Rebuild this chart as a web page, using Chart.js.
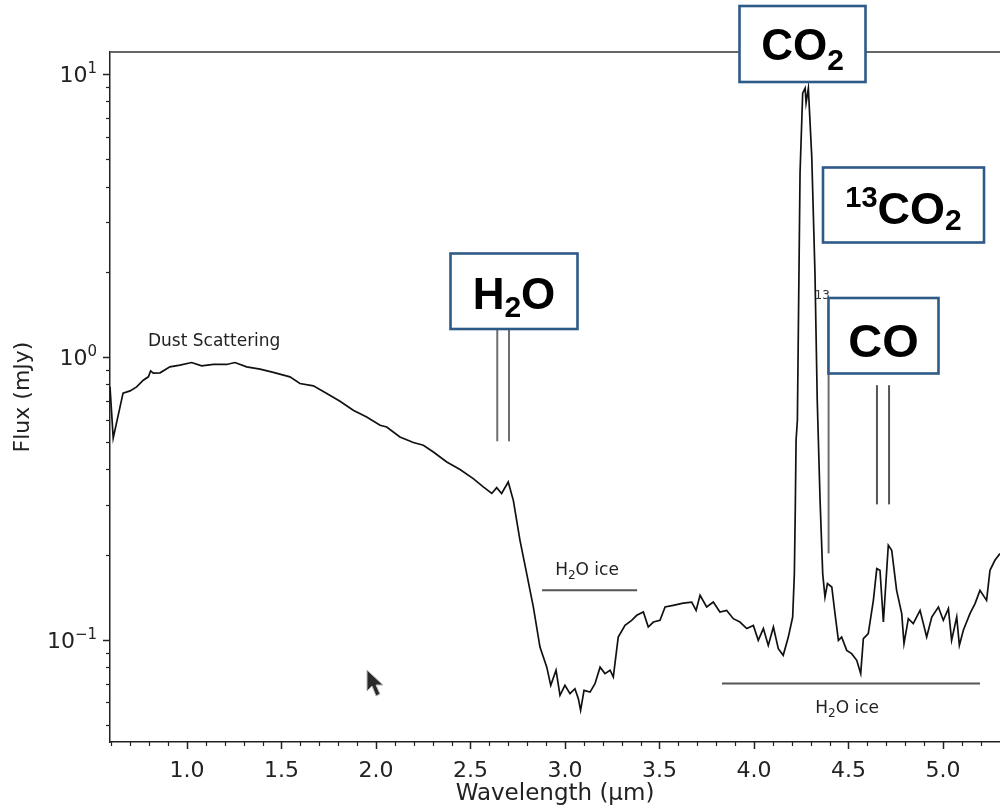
<!DOCTYPE html>
<html><head><meta charset="utf-8">
<script src="https://cdn.jsdelivr.net/npm/chart.js@4.4.0/dist/chart.umd.min.js"></script>
<style>html,body{margin:0;padding:0;background:#fff;}#wrap{width:1000px;height:808px;overflow:hidden;}</style>
</head><body><div id="wrap"><canvas id="c" width="1000" height="808"></canvas></div>
<script>
// ---- data (wavelength in micron, flux in mJy) ----
const wavelength = [0.593,0.610,0.662,0.699,0.734,0.769,0.796,0.808,0.822,0.858,
0.910,0.963,1.025,1.078,1.140,1.210,1.254,1.316,1.387,1.457,
1.545,1.598,1.669,1.740,1.810,1.880,1.951,2.022,2.057,2.127,
2.198,2.251,2.304,2.375,2.445,2.515,2.568,2.613,2.639,2.665,
2.700,2.727,2.762,2.798,2.833,2.868,2.904,2.925,2.953,2.974,
3.000,3.027,3.053,3.071,3.083,3.101,3.133,3.159,3.186,3.212,
3.239,3.256,3.282,3.318,3.353,3.380,3.415,3.441,3.468,3.503,
3.530,3.573,3.626,3.671,3.694,3.715,3.750,3.785,3.820,3.856,
3.891,3.926,3.962,3.997,4.023,4.050,4.076,4.103,4.129,4.155,
4.182,4.205,4.214,4.219,4.223,4.230,4.244,4.258,4.271,4.276,
4.288,4.306,4.323,4.335,4.350,4.364,4.376,4.389,4.412,4.429,
4.447,4.464,4.491,4.517,4.544,4.565,4.579,4.605,4.632,4.650,
4.667,4.685,4.711,4.729,4.755,4.782,4.794,4.817,4.843,4.879,
4.914,4.941,4.976,5.002,5.029,5.046,5.073,5.087,5.108,5.143,
5.170,5.196,5.231,5.249,5.275,5.302];
const flux = [0.783,0.516,0.744,0.758,0.783,0.827,0.850,0.892,0.876,0.878,
0.922,0.935,0.955,0.929,0.940,0.940,0.955,0.922,0.905,0.881,
0.850,0.805,0.790,0.742,0.697,0.648,0.613,0.573,0.565,0.521,
0.498,0.487,0.461,0.425,0.400,0.371,0.347,0.329,0.345,0.329,
0.361,0.311,0.225,0.171,0.1305,0.0942,0.0800,0.0690,0.0780,0.0636,
0.0690,0.0645,0.0671,0.0619,0.0563,0.0662,0.0653,0.0699,0.0800,0.0759,
0.0780,0.0738,0.1022,0.1124,0.1171,0.1220,0.1253,0.1109,0.1155,0.1171,
0.1305,0.1323,0.1348,0.1359,0.1270,0.1436,0.1305,0.1359,0.1253,0.1270,
0.1187,0.1155,0.1095,0.1124,0.0995,0.1095,0.0955,0.1109,0.0930,0.0881,
0.1022,0.1203,0.1713,0.2947,0.5076,0.597,4.465,8.55,8.90,7.90,
8.90,5.10,1.977,0.703,0.311,0.171,0.1416,0.158,0.1536,0.1237,
0.0995,0.1022,0.0917,0.0893,0.0846,0.0759,0.1009,0.1051,0.1378,0.1784,
0.176,0.1155,0.2158,0.2072,0.1495,0.1237,0.0969,0.1187,0.1140,0.1270,
0.1022,0.1203,0.1305,0.1171,0.1288,0.0995,0.1203,0.0955,0.1080,0.1237,
0.1342,0.1495,0.1378,0.176,0.1909,0.2016];

// feature marker lines
const h2oGasLines = [2.642, 2.704];      const h2oGasRange = [0.503, 1.30];
const co13Lines = [4.395];               const co13Range = [0.202, 1.52];
const coGasLines = [4.651, 4.715];       const coGasRange = [0.301, 0.794];
const iceBandStart = [2.879, 3.831];
const iceBandEnd   = [3.382, 5.196];
const iceBandFlux  = [0.1495, 0.0701];

// axes
const xMin = 0.593, xMax = 5.302, yMin = 0.0435, yMax = 11.96;
const xMajorTicks = [1.0,1.5,2.0,2.5,3.0,3.5,4.0,4.5,5.0];
const xMinorTicks = [0.6,0.7,0.8,0.9,1.1,1.2,1.3,1.4,1.6,1.7,1.8,1.9,2.1,2.2,2.3,2.4,2.6,2.7,2.8,2.9,3.1,3.2,3.3,3.4,3.6,3.7,3.8,3.9,4.1,4.2,4.3,4.4,4.6,4.7,4.8,4.9,5.1,5.2,5.3];
const xTickLabels = ['1.0','1.5','2.0','2.5','3.0','3.5','4.0','4.5','5.0'];
const yMajorTicks = [0.1, 1, 10];
const yTickBase = ['10', '10', '10'];
const yTickExp  = ['\u22121', '0', '1'];
const yMinorTicks = [0.05,0.06,0.07,0.08,0.09,0.2,0.3,0.4,0.5,0.6,0.7,0.8,0.9,2,3,4,5,6,7,8,9];

const lineSet = (xs, range, color, w) => xs.map(v => ({
  data: [{x: v, y: range[0]}, {x: v, y: range[1]}],
  borderColor: color, borderWidth: w, pointRadius: 0, fill: false
}));
const iceSets = iceBandStart.map((s, i) => ({
  data: [{x: s, y: iceBandFlux[i]}, {x: iceBandEnd[i], y: iceBandFlux[i]}],
  borderColor: '#555', borderWidth: 2, pointRadius: 0, fill: false
}));

function measureParts(ctx, parts, family) {
  let total = 0;
  parts.forEach(p => { ctx.font = `${p[3]||''} ${p[1]}px ${family}`; p.w = ctx.measureText(p[0]).width; total += p.w; });
  return total;
}
function drawRichAt(ctx, parts, left, baseline, family, color) {
  ctx.fillStyle = color; ctx.textBaseline = 'alphabetic'; ctx.textAlign = 'left';
  let xx = left;
  parts.forEach(p => { ctx.font = `${p[3]||''} ${p[1]}px ${family}`; ctx.fillText(p[0], xx, baseline + p[2]); xx += p.w; });
}
function drawRich(ctx, parts, cx, baseline, family, color) {
  const total = measureParts(ctx, parts, family);
  drawRichAt(ctx, parts, cx - total / 2, baseline, family, color);
}

const decor = {
  id: 'decor',
  afterDraw(chart) {
    const {ctx, chartArea: a, scales: {x, y}} = chart;
    const dv = '"DejaVu Sans"';
    ctx.save();
    // top spine
    ctx.strokeStyle = '#666'; ctx.lineWidth = 2;
    ctx.beginPath(); ctx.moveTo(a.left, a.top); ctx.lineTo(a.right, a.top); ctx.stroke();
    // tick marks
    ctx.strokeStyle = '#222';
    const tick = (x1, y1, x2, y2, w) => { ctx.lineWidth = w; ctx.beginPath(); ctx.moveTo(x1, y1); ctx.lineTo(x2, y2); ctx.stroke(); };
    xMajorTicks.forEach(v => { const p = Math.round(x.getPixelForValue(v)) + 0.5; tick(p, a.bottom, p, a.bottom + 7, 1.5); });
    xMinorTicks.forEach(v => { const p = Math.round(x.getPixelForValue(v)) + 0.5; if (p > a.left + 1 && p < a.right) tick(p, a.bottom, p, a.bottom + 4, 1.2); });
    yMajorTicks.forEach(v => { const p = Math.round(y.getPixelForValue(v)) + 0.5; tick(a.left - 7, p, a.left, p, 1.5); });
    yMinorTicks.forEach(v => { const p = Math.round(y.getPixelForValue(v)) + 0.5; tick(a.left - 4, p, a.left, p, 1.2); });

    // y tick labels with mathtext-like superscripts
    yMajorTicks.forEach((v, i) => {
      const p = y.getPixelForValue(v);
      const parts = [[yTickBase[i], 22, 0], [yTickExp[i], 15, -9]];
      const total = measureParts(ctx, parts, dv);
      drawRichAt(ctx, parts, a.left - 13 - total, p + 8, dv, '#222');
    });

    // small text annotations
    ctx.fillStyle = '#222'; ctx.font = `17px ${dv}`; ctx.textAlign = 'left'; ctx.textBaseline = 'alphabetic';
    ctx.fillText('Dust Scattering', x.getPixelForValue(0.794), y.getPixelForValue(1.091));
    drawRich(ctx, [['H',17,0],['2',12,4],['O ice',17,0]], x.getPixelForValue(3.117), y.getPixelForValue(0.169), dv, '#222');
    drawRich(ctx, [['H',17,0],['2',12,4],['O ice',17,0]], x.getPixelForValue(4.493), y.getPixelForValue(0.0549), dv, '#222');
    ctx.fillStyle = '#333'; ctx.font = `12px ${dv}`; ctx.textAlign = 'left';
    ctx.fillText('13', x.getPixelForValue(co13Lines[0]) - 14, y.getPixelForValue(1.6));

    // molecule boxes
    const lib = '"Liberation Sans", Arial, sans-serif';
    const boxes = [
      {r: [739.5, 6, 126, 76], cx: 802.5, base: 60, parts: [['CO',44,0,'bold'],['2',30,10,'bold']]},
      {r: [450.5, 253.5, 127, 75.5], cx: 514, base: 309, parts: [['H',44,0,'bold'],['2',30,8,'bold'],['O',44,0,'bold']]},
      {r: [823, 167.5, 161, 75], cx: 903.5, base: 224, parts: [['13',29,-17,'bold'],['CO',45,0,'bold'],['2',30,6,'bold']]},
      {r: [828.5, 298, 110, 75.5], cx: 883.5, base: 357, parts: [['CO',47,0,'bold']]}
    ];
    boxes.forEach(b => {
      ctx.fillStyle = '#fff'; ctx.fillRect(...b.r);
      ctx.strokeStyle = '#2e5a87'; ctx.lineWidth = 2.6; ctx.strokeRect(...b.r);
      drawRich(ctx, b.parts, b.cx, b.base, lib, '#000');
    });

    // mouse pointer
    ctx.beginPath();
    ctx.moveTo(367, 670); ctx.lineTo(367, 691); ctx.lineTo(372, 686); ctx.lineTo(376, 696);
    ctx.lineTo(380, 694); ctx.lineTo(376, 685); ctx.lineTo(383, 685); ctx.closePath();
    ctx.fillStyle = '#2a2a2a'; ctx.fill(); ctx.strokeStyle = '#bbb'; ctx.lineWidth = 1; ctx.stroke();
    ctx.restore();
  }
};

new Chart(document.getElementById('c'), {
  type: 'line',
  data: {
    datasets: [
      {data: wavelength.map((w, i) => ({x: w, y: flux[i]})), borderColor: '#111', borderWidth: 1.7,
       pointRadius: 0, tension: 0, fill: false},
      ...lineSet(h2oGasLines, h2oGasRange, '#6e6e6e', 2),
      ...lineSet(co13Lines, co13Range, '#6e6e6e', 2),
      ...lineSet(coGasLines, coGasRange, '#555', 2),
      ...iceSets
    ]
  },
  options: {
    responsive: false, animation: false, devicePixelRatio: 1,
    layout: {padding: {top: 52, left: 0, right: 0, bottom: 0}},
    plugins: {legend: {display: false}, tooltip: {enabled: false}},
    scales: {
      x: {
        type: 'linear', min: xMin, max: xMax,
        afterFit: s => { s.height = 66; },
        afterBuildTicks: s => { s.ticks = xMajorTicks.map(v => ({value: v})); },
        ticks: {autoSkip: false, maxRotation: 0, padding: 9, color: '#222',
          font: {family: 'DejaVu Sans', size: 22},
          callback: (v) => { const i = xMajorTicks.findIndex(t => Math.abs(t - v) < 1e-6); return i >= 0 ? xTickLabels[i] : ''; }},
        grid: {display: true, drawOnChartArea: false, drawTicks: true, tickLength: 7, tickColor: 'rgba(0,0,0,0)'},
        border: {display: true, color: '#222', width: 1.5},
        title: {display: true, text: 'Wavelength (\u03BCm)', color: '#222', font: {family: 'DejaVu Sans', size: 23}, padding: {top: 0, bottom: 0}}
      },
      y: {
        type: 'logarithmic', min: yMin, max: yMax,
        afterFit: s => { s.width = 110; },
        afterBuildTicks: s => { s.ticks = yMajorTicks.map(v => ({value: v})); },
        ticks: {autoSkip: false, padding: 7, color: 'rgba(0,0,0,0)',
          font: {family: 'DejaVu Sans', size: 22},
          callback: (v) => { const i = yMajorTicks.findIndex(t => Math.abs(t - v) / t < 1e-6); return i >= 0 ? yTickBase[i] : ''; }},
        grid: {display: true, drawOnChartArea: false, drawTicks: true, tickLength: 7, tickColor: 'rgba(0,0,0,0)'},
        border: {display: true, color: '#222', width: 1.5},
        title: {display: true, text: 'Flux (mJy)', color: '#222', font: {family: 'DejaVu Sans', size: 22}, padding: {top: 10, bottom: 0}}
      }
    }
  },
  plugins: [decor]
});
</script></body></html>
